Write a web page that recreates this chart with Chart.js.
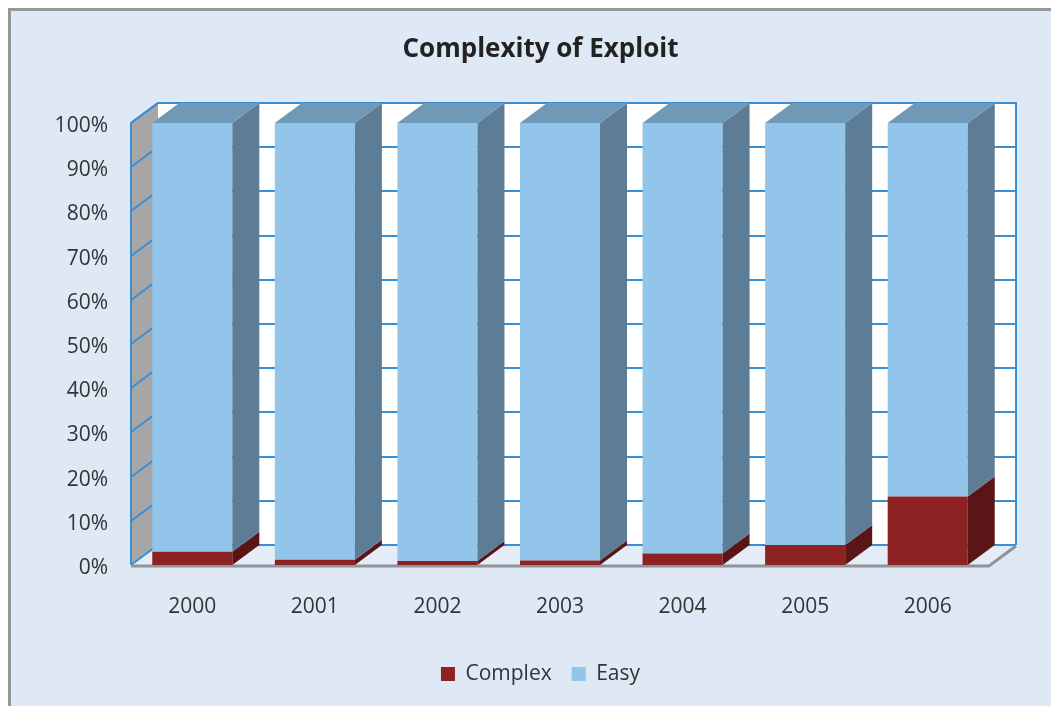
<!DOCTYPE html>
<html>
<head>
<meta charset="utf-8">
<title>Complexity of Exploit</title>
<script src="https://cdn.jsdelivr.net/npm/chart.js@4/dist/chart.umd.min.js"></script>
<style>
  html, body { margin: 0; padding: 0; background: #ffffff; }
  #wrap { width: 1051px; height: 706px; }
</style>
</head>
<body>
<div id="wrap"><canvas id="c" width="1051" height="706"></canvas></div>
<script>
// Share of exploits per year, split by complexity (percent of the year's total)
const years = ['2000', '2001', '2002', '2003', '2004', '2005', '2006'];
const complexPct = [3.0, 1.2, 0.9, 1.0, 2.6, 4.5, 15.5];
const easyPct = [97.0, 98.8, 99.1, 99.0, 97.4, 95.5, 84.5];
const yTickStep = 10;

// Look of the pseudo-3D box
const DEPTH_X = 27, DEPTH_Y = -20;
const AREA = { top: 123, bottom: 565 };
const COLORS = {
  page: '#ffffff',
  panel: '#DEE9F5',
  panelBorder: '#969696',
  backWall: '#ffffff',
  sideWall: '#A6A6A6',
  floor: '#E4EDF7',
  floorEdge: '#8E9499',
  grid: '#3A8ED3',
  complexFront: '#8C2222',
  complexSide: '#5A1617',
  easyFront: '#93C5EA',
  easySide: '#5D7D96',
  easyTop: '#7099B7',
  text: '#333333'
};
const FONT = '"Open Sans", "DejaVu Sans", sans-serif';

let xAxisHeight = 78.5;

// Panel background with its top/left frame
const panelPlugin = {
  id: 'panel',
  beforeDraw(chart) {
    const ctx = chart.ctx;
    ctx.save();
    ctx.fillStyle = COLORS.page;
    ctx.fillRect(0, 0, chart.width, chart.height);
    ctx.fillStyle = COLORS.panel;
    ctx.fillRect(8, 8, chart.width - 8, chart.height - 8);
    ctx.strokeStyle = COLORS.panelBorder;
    ctx.lineWidth = 3;
    ctx.beginPath();
    ctx.moveTo(9.5, chart.height);
    ctx.lineTo(9.5, 9.5);
    ctx.lineTo(chart.width, 9.5);
    ctx.stroke();
    ctx.restore();
  }
};

// Back wall, side wall, floor and gridlines drawn in oblique projection
const boxPlugin = {
  id: 'box3d',
  beforeDatasetsDraw(chart) {
    const ctx = chart.ctx;
    const { left: L, right: R, top: T, bottom: B } = chart.chartArea;
    const y = chart.scales.y;
    const dx = DEPTH_X, dy = DEPTH_Y;
    ctx.save();
    // back wall
    ctx.fillStyle = COLORS.backWall;
    ctx.fillRect(L + dx, T + dy, R - L, B - T);
    // left wall
    ctx.fillStyle = COLORS.sideWall;
    ctx.beginPath();
    ctx.moveTo(L, T); ctx.lineTo(L + dx, T + dy); ctx.lineTo(L + dx, B + dy); ctx.lineTo(L, B);
    ctx.closePath(); ctx.fill();
    // floor
    ctx.fillStyle = COLORS.floor;
    ctx.beginPath();
    ctx.moveTo(L, B); ctx.lineTo(R, B); ctx.lineTo(R + dx, B + dy); ctx.lineTo(L + dx, B + dy);
    ctx.closePath(); ctx.fill();
    // gridlines: across the left wall and along the back wall
    ctx.strokeStyle = COLORS.grid;
    ctx.lineWidth = 2;
    y.ticks.forEach(t => {
      const py = Math.round(y.getPixelForValue(t.value));
      ctx.beginPath();
      ctx.moveTo(L, py);
      ctx.lineTo(L + dx, py + dy);
      ctx.lineTo(R + dx, py + dy);
      ctx.stroke();
    });
    // wall outlines
    ctx.beginPath();
    ctx.moveTo(L, B); ctx.lineTo(L, T); ctx.lineTo(L + dx, T + dy);
    ctx.lineTo(R + dx, T + dy); ctx.lineTo(R + dx, B + dy);
    ctx.stroke();
    // floor front and right edges
    ctx.strokeStyle = COLORS.floorEdge;
    ctx.lineWidth = 3;
    ctx.beginPath();
    ctx.moveTo(L, B + 1); ctx.lineTo(R, B + 1); ctx.lineTo(R + dx, B + dy + 1);
    ctx.stroke();
    ctx.restore();
  },
  afterDatasetsDraw(chart) {
    const ctx = chart.ctx;
    const dx = DEPTH_X, dy = DEPTH_Y;
    const sides = [COLORS.complexSide, COLORS.easySide];
    const last = chart.data.datasets.length - 1;
    ctx.save();
    chart.data.datasets.forEach((ds, di) => {
      const meta = chart.getDatasetMeta(di);
      meta.data.forEach(bar => {
        const p = bar.getProps(['x', 'y', 'base', 'width'], true);
        const x1 = p.x - p.width / 2, x2 = p.x + p.width / 2;
        const top = Math.min(p.y, p.base), bot = Math.max(p.y, p.base);
        // right side face
        ctx.fillStyle = sides[di];
        ctx.beginPath();
        ctx.moveTo(x2, top); ctx.lineTo(x2 + dx, top + dy);
        ctx.lineTo(x2 + dx, bot + dy); ctx.lineTo(x2, bot);
        ctx.closePath(); ctx.fill();
        // top face of the stack
        if (di === last) {
          ctx.fillStyle = COLORS.easyTop;
          ctx.beginPath();
          ctx.moveTo(x1, top); ctx.lineTo(x1 + dx, top + dy);
          ctx.lineTo(x2 + dx, top + dy); ctx.lineTo(x2, top);
          ctx.closePath(); ctx.fill();
        }
      });
    });
    ctx.restore();
  }
};

const chart = new Chart(document.getElementById('c'), {
  type: 'bar',
  data: {
    labels: years,
    datasets: [
      { label: 'Complex', data: complexPct, backgroundColor: COLORS.complexFront, borderWidth: 0 },
      { label: 'Easy', data: easyPct, backgroundColor: COLORS.easyFront, borderWidth: 0 }
    ]
  },
  options: {
    responsive: false,
    animation: false,
    devicePixelRatio: 1,
    categoryPercentage: 1,
    barPercentage: 0.653,
    layout: { padding: { left: 30, right: 0, top: 0, bottom: 11.5 } },
    scales: {
      x: {
        stacked: true,
        offset: true,
        grid: { display: false, drawTicks: false },
        border: { display: false },
        ticks: { color: COLORS.text, font: { family: FONT, size: 21 }, padding: 29 },
        afterFit(s) { s.height = xAxisHeight; }
      },
      y: {
        stacked: true,
        min: 0,
        max: 100,
        grid: { display: false, drawTicks: false },
        border: { display: false },
        ticks: {
          stepSize: yTickStep,
          color: COLORS.text,
          font: { family: FONT, size: 21 },
          padding: 23,
          labelOffset: 3,
          callback: v => v + '%'
        },
        afterFit(s) { s.width = 101; }
      },
      // keeps room on the right for the depth of the box
      yRoom: {
        position: 'right',
        grid: { display: false, drawTicks: false },
        border: { display: false },
        ticks: { display: false },
        afterFit(s) { s.width = 62; }
      }
    },
    plugins: {
      title: {
        display: true,
        text: 'Complexity of Exploit',
        color: '#222222',
        font: { family: FONT, size: 26, weight: 'bold' },
        padding: { top: 34, bottom: 60 }
      },
      legend: {
        position: 'bottom',
        labels: {
          color: COLORS.text,
          font: { family: FONT, size: 21 },
          boxWidth: 14,
          boxHeight: 14,
          padding: 20
        }
      },
      tooltip: { enabled: false }
    }
  },
  plugins: [panelPlugin, boxPlugin]
});

// settle the plot rectangle at its intended top and bottom
for (let i = 0; i < 4; i++) {
  const a = chart.chartArea;
  const dt = a.top - AREA.top, db = a.bottom - AREA.bottom;
  if (Math.abs(dt) < 0.25 && Math.abs(db) < 0.25) break;
  chart.options.plugins.title.padding.bottom -= dt;
  xAxisHeight += db;
  chart.update('none');
}
</script>
</body>
</html>
